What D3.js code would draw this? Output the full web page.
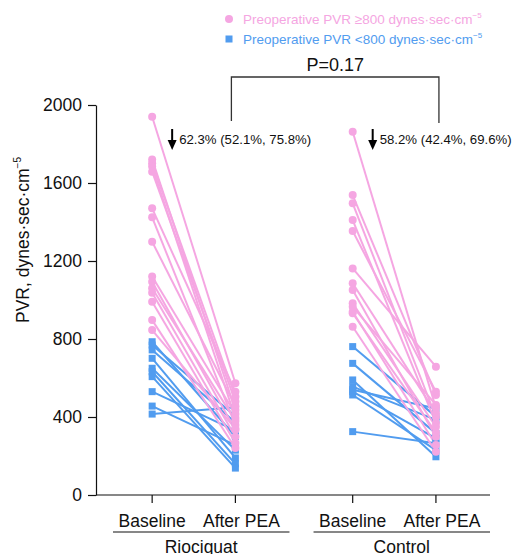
<!DOCTYPE html>
<html>
<head>
<meta charset="utf-8">
<script src="https://cdn.jsdelivr.net/npm/d3@7"></script>
<style>
  body { margin: 0; background: #fff; }
  svg { display: block; font-family: "Liberation Sans", Arial, Helvetica, sans-serif; }
</style>
</head>
<body>
<div id="chart"></div>
<script>
// ---------- data ----------
const groups = ["Riociquat", "Control"];
const timepoints = ["Baseline", "After PEA"];
const yTicks = [0, 400, 800, 1200, 1600, 2000];

// Riociquat, preoperative PVR >= 800 (pink)
const rioHighBaseline = [1940, 1721, 1701, 1684, 1658, 1470, 1424, 1299, 1120, 1094, 1060, 1037, 991, 897, 846];
const rioHighAfter    = [ 573,  436,  504,  395,  479,  530,  359,  455,  415,  333,  380,  299,  267,  241, 340];
// Riociquat, preoperative PVR < 800 (blue)
const rioLowBaseline  = [786, 769, 744, 701, 650, 632, 607, 530, 456, 415];
const rioLowAfter     = [300, 404, 372, 190, 230, 160, 138, 330, 256, 450];
// Control, preoperative PVR >= 800 (pink)
const ctlHighBaseline = [1863, 1538, 1496, 1410, 1354, 1162, 1086, 1051, 983, 966, 940, 932, 863];
const ctlHighAfter    = [ 446,  513,  400,  369,  530,  658,  420,  299, 350, 462, 256, 320, 222];
// Control, preoperative PVR < 800 (blue)
const ctlLowBaseline  = [761, 675, 590, 556, 540, 530, 513, 325];
const ctlLowAfter     = [402, 316, 196, 385, 444, 290, 230, 265];

const legendLabels = ["Preoperative PVR \u2265800 dynes\u00b7sec\u00b7cm", "Preoperative PVR <800 dynes\u00b7sec\u00b7cm"];
const changeLabels = ["62.3% (52.1%, 75.8%)", "58.2% (42.4%, 69.6%)"];
const pLabel = "P=0.17";

const PINK = "#f5a6e2";
const BLUE = "#519cef";
const FS = 17.5;

// ---------- layout ----------
const W = 514, H = 554;
const svg = d3.select("#chart").append("svg").attr("width", W).attr("height", H);

const y = d3.scaleLinear().domain([0, 2000]).range([495, 105]);
const xGroup = d3.scaleBand().domain(groups).range([113, 490]).paddingInner(0.12);
const xTime = d3.scalePoint().domain(timepoints).range([0, xGroup.bandwidth()]).padding(0.56).align(0.42);
const xPos = (g, t) => xGroup(g) + xTime(t);

const series = [
  { group: "Riociquat", cls: "low",  base: rioLowBaseline, after: rioLowAfter },
  { group: "Control",   cls: "low",  base: ctlLowBaseline, after: ctlLowAfter },
  { group: "Riociquat", cls: "high", base: rioHighBaseline, after: rioHighAfter },
  { group: "Control",   cls: "high", base: ctlHighBaseline, after: ctlHighAfter }
];

// ---------- axes ----------
const yAxis = d3.axisLeft(y).tickValues(yTicks).tickFormat(d3.format("d"))
  .tickSize(8).tickPadding(6).tickSizeOuter(0);
const gy = svg.append("g").attr("transform", "translate(96,0)").call(yAxis);
gy.selectAll("text").attr("font-size", FS).attr("fill", "#111").attr("font-family", "Liberation Sans, Arial, sans-serif");
gy.selectAll("line,path").attr("stroke", "#111").attr("stroke-width", 1.2);

svg.append("line").attr("x1", 96).attr("x2", 490).attr("y1", y(0)).attr("y2", y(0))
  .attr("stroke", "#111").attr("stroke-width", 1.2);

groups.forEach(g => {
  timepoints.forEach(t => {
    const xx = xPos(g, t);
    svg.append("line").attr("x1", xx).attr("x2", xx).attr("y1", y(0)).attr("y2", y(0) + 8)
      .attr("stroke", "#111").attr("stroke-width", 1.2);
    svg.append("text").attr("x", xx + (t === "After PEA" ? 6 : 0)).attr("y", 526.5)
      .attr("text-anchor", "middle").attr("font-size", FS).attr("fill", "#111").text(t);
  });
  const x0 = xGroup(g), x1 = x0 + xGroup.bandwidth();
  svg.append("line").attr("x1", x0).attr("x2", x1).attr("y1", 532).attr("y2", 532)
    .attr("stroke", "#111").attr("stroke-width", 1.2);
  svg.append("text").attr("x", (x0 + x1) / 2).attr("y", 553)
    .attr("text-anchor", "middle").attr("font-size", FS).attr("fill", "#111").text(g);
});

// y axis title
const yt = svg.append("text").attr("transform", "translate(29,240) rotate(-90)")
  .attr("text-anchor", "middle").attr("font-size", FS).attr("fill", "#111");
yt.append("tspan").text("PVR, dynes\u00b7sec\u00b7cm");
yt.append("tspan").attr("font-size", 10).attr("dy", -8).text("\u22125");

// ---------- lines ----------
series.forEach(s => {
  const col = s.cls === "high" ? PINK : BLUE;
  const xb = xPos(s.group, "Baseline"), xa = xPos(s.group, "After PEA");
  svg.append("g").selectAll("line").data(d3.range(s.base.length)).join("line")
    .attr("x1", xb).attr("y1", i => y(s.base[i]))
    .attr("x2", xa).attr("y2", i => y(s.after[i]))
    .attr("stroke", col).attr("stroke-width", 2);
});

// ---------- markers ----------
series.forEach(s => {
  const col = s.cls === "high" ? PINK : BLUE;
  const g = svg.append("g");
  [["Baseline", s.base], ["After PEA", s.after]].forEach(([t, vals]) => {
    const xx = xPos(s.group, t);
    if (s.cls === "high") {
      g.selectAll(null).data(vals).join("circle")
        .attr("cx", xx).attr("cy", d => y(d)).attr("r", 4).attr("fill", col);
    } else {
      g.selectAll(null).data(vals).join("rect")
        .attr("x", xx - 3.5).attr("y", d => y(d) - 3.5).attr("width", 7).attr("height", 7).attr("fill", col);
    }
  });
});

// ---------- legend ----------
const leg = svg.append("g");
[[PINK, "circle"], [BLUE, "rect"]].forEach(([col, shape], i) => {
  const cy = 19 + i * 20;
  if (shape === "circle") leg.append("circle").attr("cx", 229).attr("cy", cy).attr("r", 4).attr("fill", col);
  else leg.append("rect").attr("x", 225.5).attr("y", cy - 3.5).attr("width", 7).attr("height", 7).attr("fill", col);
  const t = leg.append("text").attr("x", 243).attr("y", cy + 5).attr("font-size", 13.5).attr("fill", col);
  t.append("tspan").text(legendLabels[i]);
  t.append("tspan").attr("font-size", 8).attr("dy", -6).text("\u22125");
});

// ---------- P bracket ----------
const bx0 = xPos("Riociquat", "After PEA") - 4, bx1 = xPos("Control", "After PEA") + 3;
svg.append("path").attr("d", `M${bx0},121 V77 H${bx1} V123`).attr("fill", "none")
  .attr("stroke", "#333").attr("stroke-width", 1.3);
svg.append("text").attr("x", (bx0 + bx1) / 2).attr("y", 71).attr("text-anchor", "middle")
  .attr("font-size", 18).attr("fill", "#111").text(pLabel);

// ---------- change annotations ----------
groups.forEach((g, i) => {
  const ax = xPos(g, "Baseline") + 20;
  svg.append("line").attr("x1", ax).attr("x2", ax).attr("y1", 129).attr("y2", 143)
    .attr("stroke", "#000").attr("stroke-width", 2);
  svg.append("path").attr("d", `M${ax - 4.5},140 L${ax + 4.5},140 L${ax},150 Z`).attr("fill", "#000");
  svg.append("text").attr("x", ax + 7).attr("y", 144).attr("font-size", 13.2).attr("fill", "#111")
    .text(changeLabels[i]);
});
</script>
</body>
</html>
